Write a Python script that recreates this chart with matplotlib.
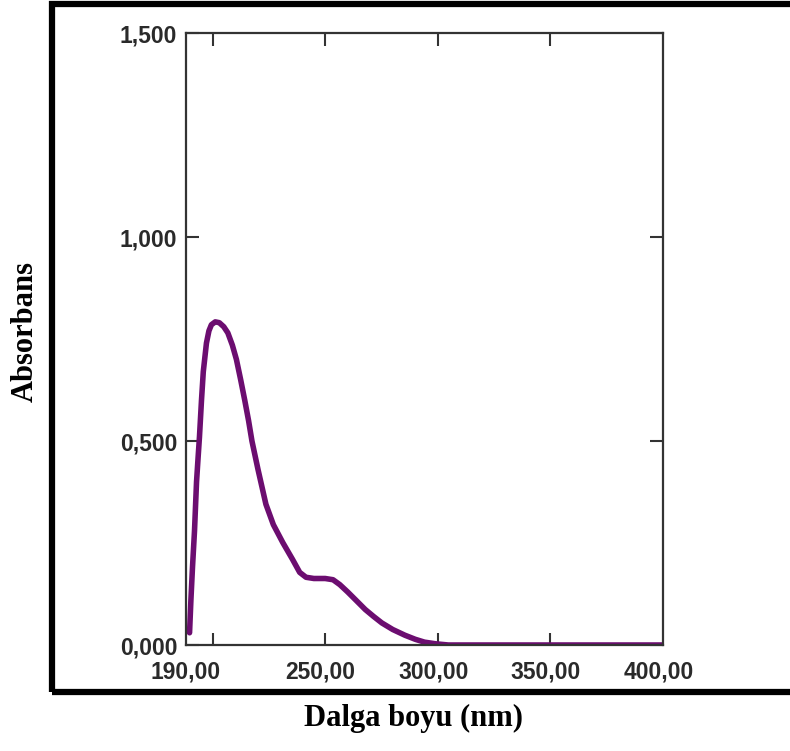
import numpy as np
import matplotlib.pyplot as plt
from matplotlib.patches import Rectangle

# spectrum (nm, absorbance)
wavelength = [189.8, 190.4, 191.1, 192.0, 192.9, 193.6, 194.2, 195.1, 195.9, 197.3,
              198.4, 199.5, 201.2, 203.0, 205.0, 206.8, 208.8, 210.6, 212.5, 214.3,
              216.0, 217.5, 220.2, 223.7, 227.0, 231.2, 235.5, 238.7, 241.5, 245.0,
              250.0, 253.5, 256.5, 260.0, 264.0, 267.8, 271.5, 275.2, 280.0, 285.4,
              290.0, 294.1, 299.0, 304.7, 320.0, 350.0, 380.0, 400.0]
absorbance = [0.03, 0.11, 0.19, 0.28, 0.40, 0.46, 0.51, 0.60, 0.67, 0.74,
              0.77, 0.785, 0.792, 0.79, 0.78, 0.765, 0.735, 0.70, 0.65, 0.60,
              0.55, 0.50, 0.43, 0.345, 0.295, 0.251, 0.21, 0.178, 0.166, 0.163,
              0.163, 0.16, 0.148, 0.13, 0.108, 0.087, 0.07, 0.054, 0.038, 0.024,
              0.014, 0.007, 0.003, 0.0, 0.0, 0.0, 0.0, 0.0]

x_labels = ["190,00", "250,00", "300,00", "350,00", "400,00"]
x_label_pos = [188, 248, 298, 348, 398]
x_marks = [200, 250, 300, 350]
y_ticks = [0.0, 0.5, 1.0, 1.5]
y_labels = ["0,000", "0,500", "1,000", "1,500"]

W, H = 790, 751
fig = plt.figure(figsize=(W / 100, H / 100), dpi=100)
ax = fig.add_axes([185.5 / W, 1 - 645 / H, (663 - 185.5) / W, 612 / H])

ax.plot(wavelength, absorbance, color="#6c0d70", lw=4, solid_joinstyle="round",
        solid_capstyle="round")
ax.set_xlim(190, 400)
ax.set_ylim(0, 1.5)

for s in ax.spines.values():
    s.set_linewidth(1.6)
    s.set_color("#333333")

lab_font = dict(family="Liberation Sans", weight="bold", size=16.5, color="#2a2a2a")
ax.xaxis.remove_overlapping_locs = False
ax.set_xticks(x_label_pos)
ax.set_xticklabels(x_labels, **lab_font)
ax.set_xticks(x_marks, minor=True)
ax.set_yticks(y_ticks)
ax.set_yticklabels(y_labels, **lab_font)
ax.tick_params(axis="x", which="major", length=0, pad=11)
ax.tick_params(axis="x", which="minor", direction="in", length=9, width=1.5,
               color="#333333", top=True, bottom=True)
ax.tick_params(axis="y", which="major", direction="in", length=9.5, width=1.5,
               color="#333333", left=True, right=True, pad=6)

# thick outer frame
fig.patches.append(Rectangle((52.5 / W, 1 - 692 / H), (820 - 52.5) / W, (692 - 3.5) / H,
                             transform=fig.transFigure, fill=False, lw=4.5,
                             edgecolor="black", clip_on=False))

fig.text(25 / W, 1 - 332 / H, "Absorbans", rotation=90, ha="center", va="center",
         family="Liberation Serif", weight="bold", fontsize=22)
fig.text(413 / W, 1 - 718 / H, "Dalga boyu (nm)", ha="center", va="center",
         family="Liberation Serif", weight="bold", fontsize=22)

fig.savefig("out.png", dpi=100)
